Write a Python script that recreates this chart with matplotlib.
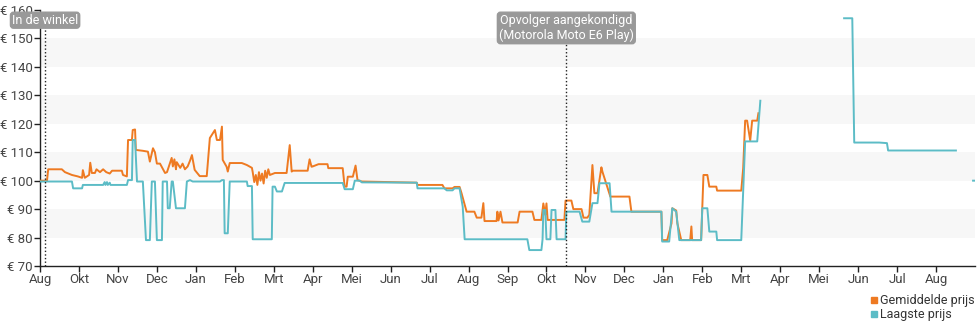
import numpy as np
import matplotlib.pyplot as plt
from matplotlib.lines import Line2D

plt.rcParams['font.family'] = ['Roboto', 'DejaVu Sans']

# x positions are in "month ticks" from the first label (0 = Aug)
month_labels = ["Aug", "Okt", "Nov", "Dec", "Jan", "Feb", "Mrt", "Apr", "Mei", "Jun", "Jul", "Aug",
                "Sep", "Okt", "Nov", "Dec", "Jan", "Feb", "Mrt", "Apr", "Mei", "Jun", "Jul", "Aug"]
y_ticks = [70, 80, 90, 100, 110, 120, 130, 140, 150, 160]

# Gemiddelde prijs
avg_x = [0, 0.18, 0.21, 0.56, 0.64, 0.82, 0.97, 1.08, 1.10, 1.15, 1.26, 1.29, 1.33, 1.41, 1.45, 1.54,
         1.62, 1.70, 1.79, 1.85, 1.97, 2.10, 2.13, 2.23, 2.26, 2.36, 2.38, 2.44, 2.46, 2.64, 2.77,
         2.82, 2.90, 2.95, 3.00, 3.08, 3.21, 3.26, 3.38, 3.41, 3.45, 3.49, 3.51, 3.60, 3.66, 3.72,
         3.79, 3.85, 3.90, 3.97, 4.10, 4.28, 4.36, 4.49, 4.54, 4.62, 4.67, 4.69, 4.79, 4.82, 4.87,
         5.18, 5.31, 5.44, 5.46, 5.50, 5.54, 5.58, 5.62, 5.66, 5.70, 5.74, 5.78, 5.82, 5.86, 5.90,
         6.03, 6.33, 6.41, 6.46, 6.49, 6.87, 6.92, 6.97, 7.00, 7.15, 7.38, 7.40, 7.77, 7.82, 7.87,
         7.90, 8.03, 8.10, 8.15, 8.26, 9.67, 9.69, 10.33, 10.38, 10.59, 10.64, 10.77, 10.82, 10.95,
         11.15, 11.21, 11.33, 11.38, 11.41, 11.72, 11.74, 11.77, 11.82, 11.87, 12.26, 12.31, 12.64,
         12.69, 12.87, 12.92, 12.97, 13.00, 13.03, 13.46, 13.49, 13.64, 13.69, 13.90, 13.95, 14.05,
         14.10, 14.18, 14.23, 14.31, 14.41, 14.44, 14.56, 14.64, 15.13, 15.18, 15.95, 15.97, 16.10,
         16.21, 16.23, 16.33, 16.36, 16.46, 16.69, 16.72, 16.74, 16.97, 17.03, 17.13, 17.18, 17.36,
         17.38, 18.00, 18.05, 18.10, 18.15, 18.23, 18.28, 18.41, 18.44]
avg_y = [100, 100, 104, 104, 103, 102, 101.5, 101, 103.7, 101, 102, 106.3, 102.7, 102.7, 104, 103,
         104, 103, 102.5, 103.5, 103.5, 103.5, 102, 101.5, 114.3, 114.3, 117.8, 118, 110.8, 110.5, 110.2,
         106.7, 111.4, 110, 106, 106, 102.7, 103, 108, 105, 107.5, 104, 106.5, 104.5, 106, 104,
         105, 107, 109, 103.8, 101.6, 101.6, 115, 117.8, 114.3, 114.3, 119, 107.3, 104.9, 103.2, 106.2,
         106.2, 105.5, 104.5, 103, 99.5, 102, 98.5, 103, 100, 102.5, 99, 103.5, 101, 104, 102,
         102.7, 102.7, 112.5, 103.2, 103.5, 103.5, 107.5, 104.9, 105, 105.8, 105.8, 104.4, 104.4, 97.9, 97.9,
         101.4, 101.4, 105.3, 100.2, 99.7, 99.3, 98.5, 98.5, 97.3, 97.3, 97.8, 97.8, 95.6, 89.1,
         89.1, 87, 87, 92.1, 85.8, 85.8, 89.1, 86, 89.1, 85.3, 85.3, 89.1, 89.1,
         86.2, 86.2, 92, 88, 92, 86.2, 86.2, 93, 93, 90, 90, 87, 87,
         88, 105.5, 95.6, 95.6, 104.7, 103, 97.9, 94.4, 94.4, 89.1, 89.1, 79.1, 79.1,
         85, 90.3, 89.5, 85, 79.1, 79.1, 83.9, 79.1, 79.1, 102, 102, 97.9, 97.9,
         96.5, 96.5, 104.4, 121.1, 121.1, 114.1, 121.1, 121.1, 123.7]

# Laagste prijs (NaN = no offer)
low_x = [0, 0.82, 0.85, 1.08, 1.10, 1.62, 1.66, 1.68, 1.72, 1.74, 1.79, 1.81, 2.23, 2.26, 2.36, 2.38,
         2.44, 2.49, 2.64, 2.72, 2.82, 2.87, 2.95, 3.00, 3.13, 3.15, 3.26, 3.28, 3.33, 3.38, 3.41,
         3.49, 3.72, 3.77, 3.85, 3.92, 4.62, 4.67, 4.72, 4.74, 4.82, 4.87, 5.31, 5.33, 5.44, 5.46,
         5.95, 5.97, 6.03, 6.08, 6.21, 6.28, 7.77, 7.82, 8.03, 8.08, 8.21, 8.26, 9.67, 9.69, 10.38,
         10.44, 10.59, 10.64, 10.77, 10.85, 10.90, 12.51, 12.56, 12.87, 12.90, 12.92, 12.97, 13.00,
         13.10, 13.13, 13.23, 13.26, 13.49, 13.51, 13.85, 13.92, 14.10, 14.18, 14.31, 14.36, 14.62,
         14.67, 15.95, 15.97, 16.15, 16.23, 16.33, 16.41, 16.97, 17.00, 17.13, 17.18, 17.36, 17.38,
         18.00, 18.10, 18.41, 18.49, 19.5, 20.64, 20.85, 20.90, 21.54, 21.74, 21.77, 23.51, 23.7,
         23.95, 24.2]
low_y = [99.7, 99.7, 97.3, 97.3, 98.5, 98.5, 99.5, 98.5, 99.5, 98.5, 99.3, 98.5, 98.5, 100.2, 100.2, 114.3,
         114.3, 99.7, 99.7, 79.1, 79.1, 99.7, 99.7, 79.1, 79.1, 99.7, 99.7, 90.3, 90.3, 99.7, 99.7,
         90.3, 90.3, 99.7, 100.2, 99.7, 99.7, 100.2, 100.2, 81.5, 81.5, 99.7, 99.7, 98.1, 98.1, 79.4,
         79.4, 97.9, 97.9, 96.2, 96.2, 99.2, 99.2, 97, 97, 100, 100, 99.4, 99.3, 97.3, 97.3,
         96.6, 96.6, 97.3, 97.3, 90.9, 79.4, 79.4, 75.6, 75.6, 79.4, 89.7, 89.7, 79.4,
         79.4, 89.7, 89.7, 79.4, 79.4, 89.1, 89.1, 85.6, 85.6, 92.1, 92.1, 99.1, 99.1,
         89.1, 89.1, 78.6, 78.6, 90.3, 89.1, 79.1, 79.1, 90.3, 90.3, 82.1, 82.1, 79.1,
         79.1, 113.8, 113.8, 128.1, np.nan, 157.1, 157.1, 113.4, 113.4, 113.2, 110.6, 110.6, np.nan,
         100, 100]

events = [(0.13, "In de winkel"), (13.51, "Opvolger aangekondigd\n(Motorola Moto E6 Play)")]

orange = "#ee7a22"
teal = "#5cbcc6"

fig = plt.figure(figsize=(9.8, 3.25), dpi=100)
ax = fig.add_axes([40 / 980, 59 / 325, 935 / 980, 256 / 325])

for lo in [80, 100, 120, 140]:
    ax.axhspan(lo, lo + 10, color="#f7f7f7", zorder=0, lw=0)

ax.plot(avg_x, avg_y, color=orange, lw=1.4, zorder=3)
ax.plot(low_x, low_y, color=teal, lw=1.4, zorder=4)

for x, label in events:
    ax.axvline(x, color="#222222", ls=(0, (1.0, 1.6)), lw=1.0, zorder=5)
    ax.text(x, 158.7, label, ha="center", va="top", fontsize=9, color="white", zorder=6,
            linespacing=1.2,
            bbox=dict(boxstyle="round,pad=0.12,rounding_size=0.25", fc="#999999", ec="#999999"))

ax.set_xlim(0, 24)
ax.set_ylim(70, 160)
ax.set_xticks(range(len(month_labels)))
ax.set_xticklabels(month_labels)
ax.set_yticks(y_ticks)
ax.set_yticklabels([f"€ {v}" for v in y_ticks])
ax.tick_params(axis="both", direction="out", length=4, width=1, colors="#222222",
               labelsize=9.5, labelcolor="#444444", pad=1)
for s in ["top", "right"]:
    ax.spines[s].set_visible(False)
for s in ["left", "bottom"]:
    ax.spines[s].set_color("#222222")
    ax.spines[s].set_linewidth(1)
ax.set_facecolor("white")

handles = [Line2D([], [], ls="none", marker="s", markersize=5, color=orange),
           Line2D([], [], ls="none", marker="s", markersize=5, color=teal)]
fig.legend(handles, ["Gemiddelde prijs", "Laagste prijs"], loc="upper left",
           bbox_to_anchor=(864 / 980, 1 - 288 / 325), frameon=False, fontsize=9,
           handlelength=0.6, handletextpad=0.2, labelspacing=0.05, borderpad=0,
           labelcolor="#333333")

fig.savefig("out.png", dpi=100)
